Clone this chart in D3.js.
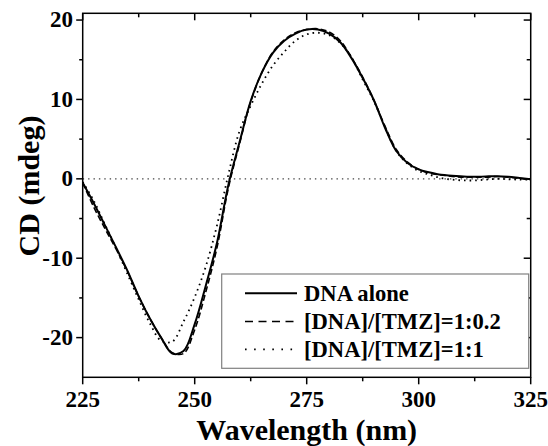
<!DOCTYPE html>
<html>
<head>
<meta charset="utf-8">
<script src="https://cdn.jsdelivr.net/npm/d3@7/dist/d3.min.js"></script>
<style>
  html, body { margin: 0; padding: 0; background: #fff; }
  svg { display: block; }
  text { font-family: "Liberation Serif", "Times New Roman", "DejaVu Serif", serif; font-weight: bold; fill: #000; }
</style>
</head>
<body>
<svg id="chart" width="548" height="446"></svg>
<script>
// ---------- data ----------
const wavelengths = [225, 227.5, 230, 232.5, 235, 237.5, 240, 242.5, 245, 247.5, 250, 252.5, 255, 257.5, 260, 262.5, 265, 267.5, 270, 272.5, 275, 277.5, 280, 282.5, 285, 287.5, 290, 292.5, 295, 297.5, 300, 302.5, 305, 307.5, 310, 312.5, 315, 317.5, 320, 322.5, 325];
const dnaAlone = [-0.5, -3.1, -5.9, -8.7, -11.6, -14.8, -17.6, -20.0, -22.0, -21.7, -18.3, -13.4, -8.0, -0.8, 4.6, 9.8, 13.4, 15.9, 17.4, 18.3, 18.8, 18.8, 18.3, 17.2, 15.2, 12.7, 9.9, 6.4, 3.5, 2.0, 1.2, 0.8, 0.5, 0.4, 0.3, 0.25, 0.3, 0.33, 0.25, 0.1, -0.05];
const ratio02 = [-0.5, -3.6, -6.3, -8.9, -11.7, -14.8, -17.6, -20.0, -21.9, -22.0, -19.0, -14.2, -8.6, -1.2, 4.4, 9.7, 13.4, 16.0, 17.5, 18.4, 18.8, 18.9, 18.5, 17.4, 15.3, 12.8, 9.9, 6.6, 3.7, 2.1, 1.2, 0.7, 0.5, 0.3, 0.2, 0.2, 0.2, 0.3, 0.2, 0.05, -0.1];
const ratio1 = [-0.4, -2.8, -5.8, -8.8, -12.0, -15.2, -18.2, -20.4, -20.5, -18.0, -14.9, -11.0, -5.8, 0.5, 6.0, 9.2, 12.0, 14.3, 16.0, 17.4, 18.2, 18.4, 18.1, 17.1, 15.3, 12.5, 9.8, 6.5, 3.5, 1.9, 1.0, 0.5, 0.1, -0.1, -0.2, -0.2, -0.1, 0.0, -0.05, -0.1, -0.1];
const seriesNames = ["DNA alone", "[DNA]/[TMZ]=1:0.2", "[DNA]/[TMZ]=1:1"];
const xTicks = [225, 250, 275, 300, 325];
const xMinorTicks = [237.5, 262.5, 287.5, 312.5];
const yTicks = [-20, -10, 0, 10, 20];
const yMinorTicks = [-15, -5, 5, 15];
const xTitle = "Wavelength (nm)";
const yTitle = "CD (mdeg)";

// ---------- layout ----------
const svg = d3.select("#chart");
const L = 82.7, R = 530.7, T = 13.3, B = 377.3;
const x = d3.scaleLinear().domain([225, 325]).range([L, R]);
const y = d3.scaleLinear().domain([-25, 20.85]).range([B, T]);

const series = [
  { name: seriesNames[0], values: dnaAlone, width: 2, dash: null, legendDash: null },
  { name: seriesNames[1], values: ratio02, width: 1.6, dash: "6,3", legendDash: "8,5.5" },
  { name: seriesNames[2], values: ratio1, width: 1.8, dash: "1.6,4", legendDash: "1.6,7.5" }
];

// zero line
svg.append("line")
  .attr("x1", L).attr("x2", R).attr("y1", y(0)).attr("y2", y(0))
  .attr("stroke", "#444").attr("stroke-width", 1.2).attr("stroke-dasharray", "1.4,4");

// curves
const line = d3.line()
  .x((d, i) => x(wavelengths[i]))
  .y(d => y(d))
  .curve(d3.curveCatmullRom.alpha(0.5));

series.slice().reverse().forEach(s => {
  svg.append("path")
    .attr("d", line(s.values))
    .attr("fill", "none")
    .attr("stroke", "#000")
    .attr("stroke-width", s.width)
    .attr("stroke-dasharray", s.dash)
    .attr("stroke-linejoin", "round");
});

// frame
const frame = svg.append("g").attr("stroke", "#000").attr("stroke-width", 1.5).attr("fill", "none");
frame.append("rect").attr("x", L).attr("y", T).attr("width", R - L).attr("height", B - T);

// ticks
const tk = svg.append("g").attr("stroke", "#000").attr("stroke-width", 1.5);
xTicks.forEach(v => {
  tk.append("line").attr("x1", x(v)).attr("x2", x(v)).attr("y1", B).attr("y2", B + 7);
  tk.append("line").attr("x1", x(v)).attr("x2", x(v)).attr("y1", T).attr("y2", T + 7);
});
xMinorTicks.forEach(v => {
  tk.append("line").attr("x1", x(v)).attr("x2", x(v)).attr("y1", B).attr("y2", B + 4);
  tk.append("line").attr("x1", x(v)).attr("x2", x(v)).attr("y1", T).attr("y2", T + 4);
});
yTicks.forEach(v => {
  tk.append("line").attr("x1", L - 6.5).attr("x2", L).attr("y1", y(v)).attr("y2", y(v));
  tk.append("line").attr("x1", R - 7).attr("x2", R).attr("y1", y(v)).attr("y2", y(v));
});
yMinorTicks.forEach(v => {
  tk.append("line").attr("x1", L - 3.5).attr("x2", L).attr("y1", y(v)).attr("y2", y(v));
  tk.append("line").attr("x1", R - 4).attr("x2", R).attr("y1", y(v)).attr("y2", y(v));
});

// tick labels
xTicks.forEach(v => {
  svg.append("text").attr("x", x(v)).attr("y", 406.5)
    .attr("text-anchor", "middle").attr("font-size", 23).text(v);
});
yTicks.forEach(v => {
  svg.append("text").attr("x", 73).attr("y", y(v) + 7.3)
    .attr("text-anchor", "end").attr("font-size", 23).text(String(v));
});

// axis titles
svg.append("text").attr("x", (L + R) / 2).attr("y", 440)
  .attr("text-anchor", "middle").attr("font-size", 30).text(xTitle);
svg.append("text").attr("transform", "translate(39,186) rotate(-90)")
  .attr("text-anchor", "middle").attr("font-size", 30).text(yTitle);

// legend
const lg = svg.append("g");
lg.append("rect").attr("x", 221.7).attr("y", 274).attr("width", 307).attr("height", 94.3)
  .attr("fill", "#fff").attr("stroke", "#808080").attr("stroke-width", 1.2);
const legY = [293.3, 321.5, 349.3];
series.forEach((s, i) => {
  lg.append("line").attr("x1", 245).attr("x2", 297).attr("y1", legY[i]).attr("y2", legY[i])
    .attr("stroke", "#000").attr("stroke-width", s.width).attr("stroke-dasharray", s.legendDash);
  lg.append("text").attr("x", 304).attr("y", legY[i] + 7.6).attr("font-size", 22.6).text(s.name);
});
</script>
</body>
</html>
